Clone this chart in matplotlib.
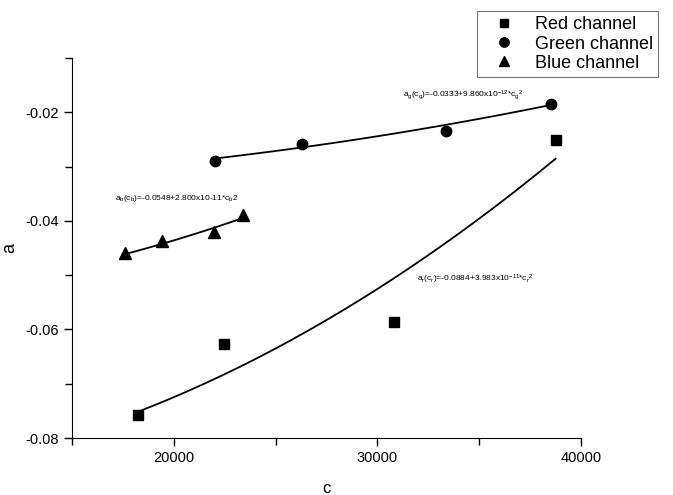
import numpy as np
import matplotlib
matplotlib.use("Agg")
import matplotlib.pyplot as plt
from matplotlib.ticker import MultipleLocator

plt.rcParams['font.family'] = ['Liberation Sans', 'DejaVu Sans']
plt.rcParams['mathtext.default'] = 'regular'

# data
red_c = [18220, 22480, 30830, 38760]
red_a = [-0.0758, -0.0627, -0.0586, -0.0252]
green_c = [22020, 26280, 33360, 38550]
green_a = [-0.0289, -0.0258, -0.0234, -0.0184]
blue_c = [17600, 19400, 21970, 23400]
blue_a = [-0.0460, -0.0438, -0.0421, -0.0390]

# fitted models a = k0 + k2*c^2, as printed on the chart
red_fit = (-0.0884, 3.983e-11)
green_fit = (-0.0333, 9.860e-12)
blue_fit = (-0.0548, 2.800e-11)

fig = plt.figure(figsize=(6.73, 4.95), dpi=100)
ax = fig.add_axes([0.107, 0.115, 0.756, 0.768])

for cs, fit in [(red_c, red_fit), (green_c, green_fit), (blue_c, blue_fit)]:
    xx = np.linspace(min(cs), max(cs), 100)
    ax.plot(xx, fit[0] + fit[1] * xx**2, color='black', lw=1.3, zorder=2)

ax.plot(red_c, red_a, 's', color='black', ms=6.5, ls='none', label='Red channel', zorder=3)
ax.plot(green_c, green_a, 'o', color='black', ms=7.5, ls='none', label='Green channel', zorder=3)
ax.plot(blue_c, blue_a, '^', color='black', ms=8, ls='none', label='Blue channel', zorder=3)

ax.text(31250, -0.0173,
        r'a$_g$(c$_g$)=-0.0333+9.860x10$^{-12}$*c$_g$$^2$', fontsize=6)
ax.text(17110, -0.0361,
        r'a$_b$(c$_b$)=-0.0548+2.800x10-11*c$_b$2', fontsize=6)
ax.text(31940, -0.0511,
        r'a$_r$(c$_r$)=-0.0884+3.983x10$^{-11}$*c$_r$$^2$', fontsize=6)

ax.set_xlim(15000, 40000)
ax.set_ylim(-0.08, -0.01)
ax.xaxis.set_major_locator(MultipleLocator(10000))
ax.xaxis.set_minor_locator(MultipleLocator(5000))
ax.yaxis.set_major_locator(MultipleLocator(0.02))
ax.yaxis.set_minor_locator(MultipleLocator(0.01))
ax.set_yticks([-0.08, -0.06, -0.04, -0.02])
ax.set_yticklabels(['-0.08', '-0.06', '-0.04', '-0.02'])
ax.tick_params(which='major', direction='out', length=6, width=1, labelsize=10.5)
ax.tick_params(which='minor', direction='out', length=5, width=1)
ax.spines['top'].set_visible(False)
ax.spines['right'].set_visible(False)
ax.set_xlabel('c', fontsize=12, labelpad=11)
ax.set_ylabel('a', fontsize=13, labelpad=5)

leg = fig.legend(loc='upper left', bbox_to_anchor=(0.695, 0.996), fontsize=13,
                 frameon=True, fancybox=False, edgecolor='#555555',
                 handletextpad=0.5, borderpad=0.3, labelspacing=0.12,
                 handlelength=2.4, markerscale=0.9)
leg.get_frame().set_linewidth(0.8)

fig.savefig('out.png', dpi=100)
